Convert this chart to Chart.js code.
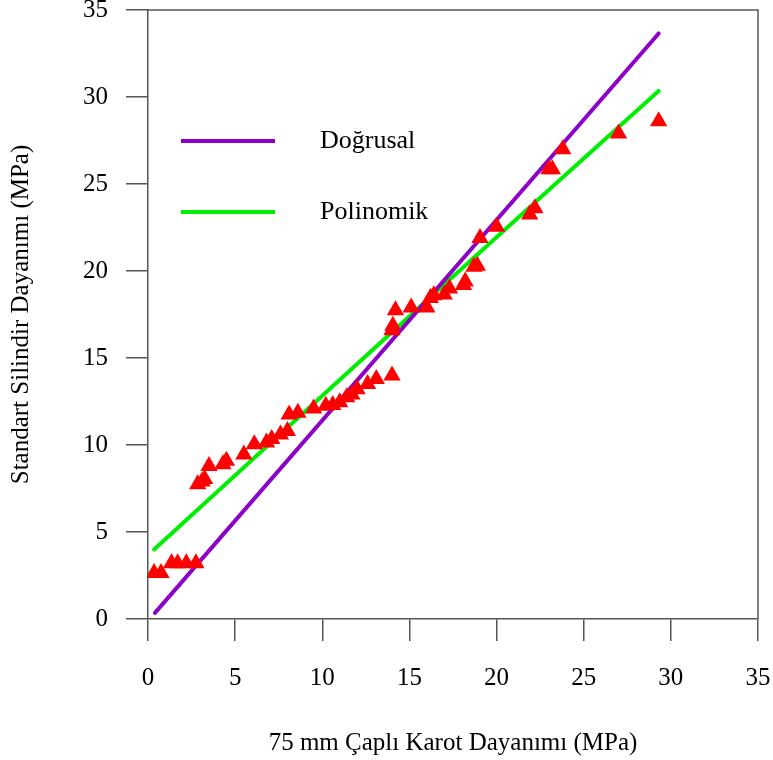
<!DOCTYPE html>
<html>
<head>
<meta charset="utf-8">
<script src="https://cdn.jsdelivr.net/npm/chart.js@4.4.1/dist/chart.umd.min.js"></script>
<style>
  html, body { margin: 0; padding: 0; background: #fff; }
</style>
</head>
<body>
<canvas id="chart" width="773" height="760"></canvas>
<script>
// measured pairs: 75 mm core strength (x) vs standard cylinder strength (y), MPa
const coreStrength = [
  0.35, 0.75, 1.35, 1.7, 2.2, 2.75, 2.85, 3.1, 3.25, 3.5,
  4.3, 4.5, 5.5, 6.1, 6.8, 7.1, 7.6, 8.0, 8.1, 8.6,
  9.5, 10.2, 10.6, 11.0, 11.4, 11.7, 12.0, 12.6, 13.1, 14.0,
  14.0, 14.05, 14.2, 15.1, 16.0, 16.2, 16.4, 17.0, 17.3, 18.1,
  18.2, 18.7, 18.9, 19.05, 20.0, 21.9, 22.2, 23.0, 23.2, 23.8,
  27.0, 29.3
]
const cylinderStrength = [
  2.65, 2.65, 3.2, 3.2, 3.2, 3.2, 7.75, 7.9, 8.05, 8.8,
  8.9, 9.1, 9.45, 10.05, 10.15, 10.35, 10.6, 10.8, 11.75, 11.85,
  12.1, 12.25, 12.3, 12.45, 12.75, 12.9, 13.2, 13.5, 13.8, 14.0,
  16.6, 16.85, 17.75, 17.9, 17.9, 18.45, 18.6, 18.65, 19.0, 19.2,
  19.4, 20.25, 20.3, 21.9, 22.55, 23.25, 23.6, 25.85, 25.85, 27.0,
  27.9, 28.6
]

// fitted curves at their ends
const linearFitX = [0.4, 29.3]
const linearFitY = [0.35, 33.65]
const polyFitX = [0.35, 17.3, 29.3]
const polyFitY = [4.0, 19.5, 30.35]

const axisTicks = [0, 5, 10, 15, 20, 25, 30, 35]
const legendLabels = ["Doğrusal", "Polinomik"]

const FONT = "'Liberation Serif', 'Times New Roman', serif"
const PURPLE = "#8c00c8"
const GREEN = "#00ee00"
const RED = "#ff0000"
const AXIS = "#555555"

const toPoints = (xs, ys) => xs.map((x, i) => ({ x, y: ys[i] }))

// closes the box on top/right and draws the in-plot legend
const frameAndLegend = {
  id: "frameAndLegend",
  afterDraw(chart) {
    const { ctx, chartArea: a } = chart
    ctx.save()
    ctx.strokeStyle = AXIS
    ctx.lineWidth = 1.5
    ctx.beginPath()
    ctx.moveTo(a.left, a.top)
    ctx.lineTo(a.right, a.top)
    ctx.lineTo(a.right, a.bottom)
    ctx.stroke()

    const colors = [PURPLE, GREEN]
    const rows = [a.top + 131, a.top + 202]
    ctx.lineWidth = 4
    ctx.font = `26px ${FONT}`
    ctx.textBaseline = "middle"
    legendLabels.forEach((label, i) => {
      ctx.strokeStyle = colors[i]
      ctx.beginPath()
      ctx.moveTo(a.left + 33, rows[i])
      ctx.lineTo(a.left + 127, rows[i])
      ctx.stroke()
      ctx.fillStyle = "#000"
      ctx.fillText(label, a.left + 172, rows[i])
    })
    ctx.restore()
  }
}

const tickStyle = {
  font: { family: FONT, size: 25 },
  color: "#000",
  stepSize: 5
}

new Chart(document.getElementById("chart"), {
  type: "scatter",
  data: {
    datasets: [
      {
        label: legendLabels[0],
        data: toPoints(linearFitX, linearFitY),
        showLine: true,
        borderColor: PURPLE,
        borderWidth: 4,
        borderCapStyle: "round",
        pointRadius: 0,
        order: 2
      },
      {
        label: legendLabels[1],
        data: toPoints(polyFitX, polyFitY),
        showLine: true,
        borderColor: GREEN,
        borderWidth: 4,
        borderCapStyle: "round",
        pointRadius: 0,
        tension: 0.4,
        order: 2
      },
      {
        label: "Ölçüm",
        data: toPoints(coreStrength, cylinderStrength),
        pointStyle: "triangle",
        pointRadius: 10,
        backgroundColor: RED,
        borderWidth: 0,
        order: 1
      }
    ]
  },
  options: {
    responsive: false,
    animation: false,
    layout: { padding: { top: 8, right: 15, left: 0, bottom: 0 } },
    plugins: { legend: { display: false }, tooltip: { enabled: false } },
    scales: {
      x: {
        type: "linear",
        min: 0,
        max: 35,
        afterBuildTicks: (s) => { s.ticks = axisTicks.map((v) => ({ value: v })) },
        afterFit: (s) => { s.height = 141; s.paddingLeft = 0; s.paddingRight = 0 },
        ticks: { ...tickStyle, padding: 22 },
        grid: { drawOnChartArea: false, tickLength: 22, color: AXIS, lineWidth: 1.5 },
        border: { color: AXIS, width: 1.5 },
        title: {
          display: true,
          text: "75 mm Çaplı Karot Dayanımı (MPa)",
          font: { family: FONT, size: 25 },
          color: "#000",
          padding: { top: 0, bottom: 2 }
        }
      },
      y: {
        type: "linear",
        min: 0,
        max: 35,
        afterBuildTicks: (s) => { s.ticks = axisTicks.map((v) => ({ value: v })) },
        afterFit: (s) => { s.width = 148; s.paddingTop = 0; s.paddingBottom = 0 },
        ticks: { ...tickStyle, padding: 18 },
        grid: { drawOnChartArea: false, tickLength: 22, color: AXIS, lineWidth: 1.5 },
        border: { color: AXIS, width: 1.5 },
        title: {
          display: true,
          text: "Standart Silindir Dayanımı (MPa)",
          font: { family: FONT, size: 25 },
          color: "#000",
          padding: { top: 6, bottom: 0 }
        }
      }
    }
  },
  plugins: [frameAndLegend]
})
</script>
</body>
</html>
